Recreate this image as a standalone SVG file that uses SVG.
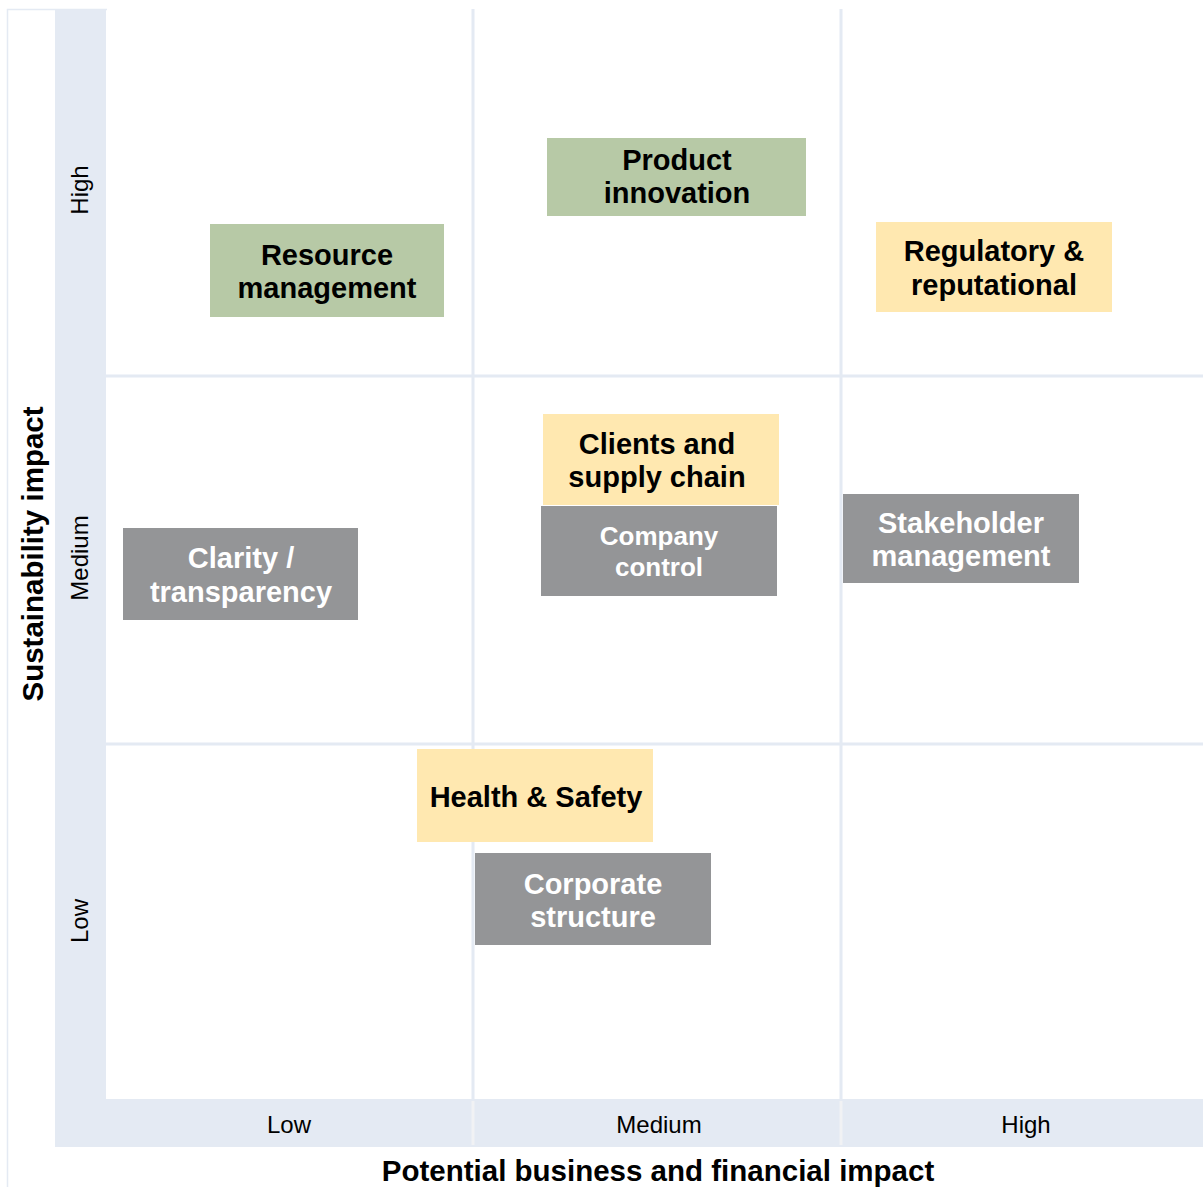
<svg xmlns="http://www.w3.org/2000/svg" width="1203" height="1187" viewBox="0 0 1203 1187">
  <style>
    .strip { fill: #E4EAF3; }
    .grid { stroke: #E4EAF3; stroke-width: 3; fill: none; }
    .frame { stroke: #E4EAF3; stroke-width: 1.5; fill: none; }
    .divider { stroke: #F1F2F4; stroke-width: 3; }
    .green { fill: #B7C9A6; }
    .yellow { fill: #FFE8B0; }
    .grey { fill: #949597; }
    .lbl { font-family: "Liberation Sans", Arial, sans-serif; font-weight: bold; font-size: 29px; text-anchor: middle; }
    .dark { fill: #000000; }
    .light { fill: #FFFFFF; }
    .tick { font-family: "Liberation Sans", Arial, sans-serif; font-size: 24px; fill: #000000; text-anchor: middle; }
    .title { font-family: "Liberation Sans", Arial, sans-serif; font-weight: bold; font-size: 29.5px; fill: #000000; text-anchor: middle; }
  </style>

  <rect width="1203" height="1187" fill="#FFFFFF"/>

  <!-- outer frame -->
  <path class="frame" d="M7.5,1187 V9.5 H107"/>

  <!-- axis bands -->
  <g id="axis-bands">
    <rect class="strip" x="55" y="9" width="51" height="1138"/>
    <rect class="strip" x="55" y="1099" width="1148" height="48"/>
    <line class="divider" x1="473" y1="1101" x2="473" y2="1145"/>
    <line class="divider" x1="841" y1="1101" x2="841" y2="1145"/>
  </g>

  <!-- quadrant grid -->
  <g id="grid">
    <line class="grid" x1="473" y1="9" x2="473" y2="1099"/>
    <line class="grid" x1="841" y1="9" x2="841" y2="1099"/>
    <line class="grid" x1="106" y1="376" x2="1203" y2="376"/>
    <line class="grid" x1="106" y1="744" x2="1203" y2="744"/>
  </g>

  <!-- axis tick labels -->
  <g id="y-ticks">
    <text class="tick" transform="translate(88,190) rotate(-90)">High</text>
    <text class="tick" transform="translate(88,558) rotate(-90)">Medium</text>
    <text class="tick" transform="translate(88,921) rotate(-90)">Low</text>
  </g>
  <g id="x-ticks">
    <text class="tick" x="289" y="1133">Low</text>
    <text class="tick" x="659" y="1133">Medium</text>
    <text class="tick" x="1026" y="1133">High</text>
  </g>

  <!-- axis titles -->
  <text id="x-title" class="title" x="658" y="1181">Potential business and financial impact</text>
  <text id="y-title" class="title" transform="translate(43,554) rotate(-90)">Sustainability impact</text>

  <!-- nodes -->
  <g id="node-resource-management">
    <rect class="green" x="210" y="224" width="234" height="93"/>
    <text class="lbl dark" x="327" y="265">Resource</text>
    <text class="lbl dark" x="327" y="298">management</text>
  </g>

  <g id="node-product-innovation">
    <rect class="green" x="547" y="138" width="259" height="78"/>
    <text class="lbl dark" x="677" y="170">Product</text>
    <text class="lbl dark" x="677" y="203">innovation</text>
  </g>

  <g id="node-regulatory-reputational">
    <rect class="yellow" x="876" y="222" width="236" height="90"/>
    <text class="lbl dark" x="994" y="261">Regulatory &amp;</text>
    <text class="lbl dark" x="994" y="295">reputational</text>
  </g>

  <g id="node-clients-supply-chain">
    <rect class="yellow" x="543" y="414" width="236" height="91"/>
    <text class="lbl dark" x="657" y="454">Clients and</text>
    <text class="lbl dark" x="657" y="487">supply chain</text>
  </g>

  <g id="node-company-control">
    <rect class="grey" x="541" y="506" width="236" height="90"/>
    <text class="lbl light" x="659" y="545" style="font-size:26px">Company</text>
    <text class="lbl light" x="659" y="576" style="font-size:26px">control</text>
  </g>

  <g id="node-stakeholder-management">
    <rect class="grey" x="843" y="494" width="236" height="89"/>
    <text class="lbl light" x="961" y="533">Stakeholder</text>
    <text class="lbl light" x="961" y="566">management</text>
  </g>

  <g id="node-clarity-transparency">
    <rect class="grey" x="123" y="528" width="235" height="92"/>
    <text class="lbl light" x="241" y="568">Clarity /</text>
    <text class="lbl light" x="241" y="602">transparency</text>
  </g>

  <g id="node-health-safety">
    <rect class="yellow" x="417" y="749" width="236" height="93"/>
    <text class="lbl dark" x="536" y="807">Health &amp; Safety</text>
  </g>

  <g id="node-corporate-structure">
    <rect class="grey" x="475" y="853" width="236" height="92"/>
    <text class="lbl light" x="593" y="894">Corporate</text>
    <text class="lbl light" x="593" y="927">structure</text>
  </g>

  <!-- connectors: none in this chart -->
  <g id="connectors"/>
</svg>
